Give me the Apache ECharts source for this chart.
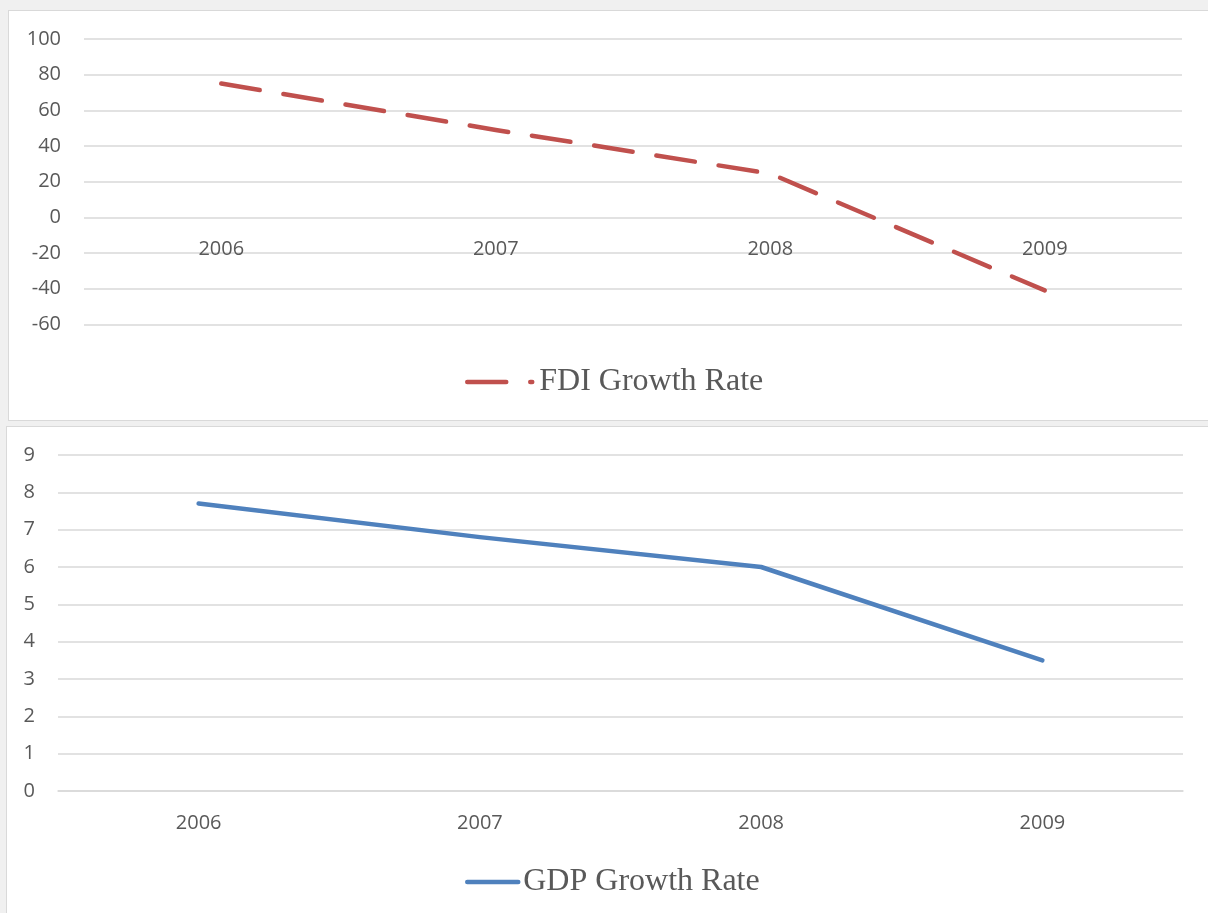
<!DOCTYPE html>
<html>
<head>
<meta charset="utf-8">
<script src="https://cdn.jsdelivr.net/npm/echarts@6/dist/echarts.min.js"></script>
<style>
  html, body { margin: 0; padding: 0; background: #f0f0f0; }
  body { width: 1208px; height: 913px; position: relative; overflow: hidden; }
  .panel { position: absolute; background: #ffffff; border: 1.5px solid #d9d9d9; box-sizing: border-box; }
  #chart { position: absolute; left: 0; top: 0; width: 1208px; height: 913px; }
</style>
</head>
<body>
<div class="panel" style="left:8px; top:10px; width:1210px; height:411px;"></div>
<div class="panel" style="left:6px; top:426px; width:1212px; height:500px;"></div>
<div id="chart"></div>
<script>
// Years shared by both panels
const years = ['2006', '2007', '2008', '2009'];

// Foreign direct investment growth (%)
const fdiGrowth = [75, 49, 24.5, -41];
const fdiTicks = { min: -60, max: 100, step: 20 };

// GDP growth (%)
const gdpGrowth = [7.7, 6.8, 6.0, 3.5];
const gdpTicks = { min: 0, max: 9, step: 1 };

const textGray = '#595959';
const gridGray = '#d9d9d9';
const labelFont = { color: textGray, fontFamily: 'Open Sans', fontSize: 20 };
const legendFont = { color: textGray, fontFamily: 'Liberation Serif', fontSize: 32, lineHeight: 36 };

// Top plot area; the year labels sit on the zero line, so the category
// axis is lifted from the plot bottom up to the y = 0 position.
const fdiGrid = { left: 84, right: 26, top: 39, height: 285.3 };
const fdiZeroLift = fdiGrid.height * (0 - fdiTicks.min) / (fdiTicks.max - fdiTicks.min);

const chart = echarts.init(document.getElementById('chart'), null, { renderer: 'canvas' });

const option = {
  backgroundColor: 'transparent',
  animation: false,
  grid: [
    fdiGrid,
    { left: 58, right: 25, top: 455, height: 336 }
  ],
  xAxis: [
    {
      gridIndex: 0, type: 'category', data: years, boundaryGap: true,
      position: 'bottom', offset: -fdiZeroLift,
      axisLine: { show: false, onZero: false },
      axisTick: { show: false },
      axisLabel: Object.assign({ margin: 22 }, labelFont)
    },
    {
      gridIndex: 1, type: 'category', data: years, boundaryGap: true,
      axisLine: { show: true, lineStyle: { color: gridGray, width: 1.5 } },
      axisTick: { show: false },
      axisLabel: Object.assign({ margin: 22 }, labelFont)
    }
  ],
  yAxis: [
    {
      gridIndex: 0, type: 'value', min: fdiTicks.min, max: fdiTicks.max, interval: fdiTicks.step,
      axisLine: { show: false }, axisTick: { show: false },
      axisLabel: Object.assign({ margin: 23 }, labelFont),
      splitLine: { lineStyle: { color: gridGray, width: 1.5 } }
    },
    {
      gridIndex: 1, type: 'value', min: gdpTicks.min, max: gdpTicks.max, interval: gdpTicks.step,
      axisLine: { show: false }, axisTick: { show: false },
      axisLabel: Object.assign({ margin: 23 }, labelFont),
      splitLine: { lineStyle: { color: gridGray, width: 1.5 } }
    }
  ],
  legend: [
    {
      data: ['FDI Growth Rate'], left: 460, top: 359,
      itemWidth: 65, itemHeight: 14,
      textStyle: Object.assign({ padding: [0, 0, 0, 2] }, legendFont),
      itemStyle: { opacity: 0 },
      lineStyle: { color: '#C0504D', width: 4.5, type: [39, 24], cap: 'round' }
    },
    {
      data: ['GDP Growth Rate'], left: 460, top: 859,
      itemWidth: 51, itemHeight: 14,
      textStyle: Object.assign({ padding: [0, 0, 0, 0] }, legendFont),
      itemStyle: { opacity: 0 },
      lineStyle: { color: '#4F81BD', width: 4.5, type: 'solid', cap: 'round' }
    }
  ],
  series: [
    {
      name: 'FDI Growth Rate', type: 'line', xAxisIndex: 0, yAxisIndex: 0,
      data: fdiGrowth, symbol: 'none', smooth: false,
      itemStyle: { color: '#C0504D' },
      lineStyle: { color: '#C0504D', width: 4.5, type: [39, 24], cap: 'round', join: 'round' }
    },
    {
      name: 'GDP Growth Rate', type: 'line', xAxisIndex: 1, yAxisIndex: 1,
      data: gdpGrowth, symbol: 'none', smooth: false,
      itemStyle: { color: '#4F81BD' },
      lineStyle: { color: '#4F81BD', width: 4.5, cap: 'round', join: 'round' }
    }
  ]
};

chart.setOption(option);
</script>
</body>
</html>
